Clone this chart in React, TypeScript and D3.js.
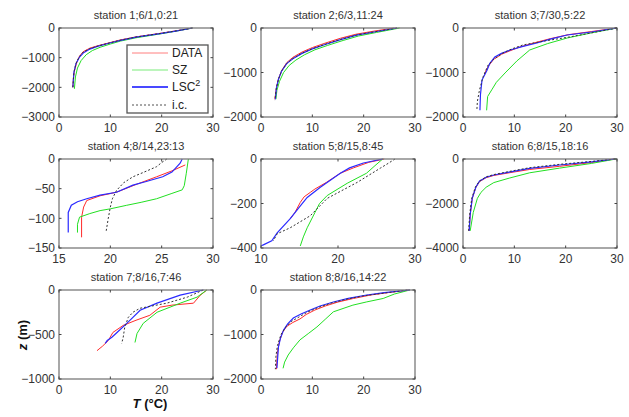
import React from 'react'
import * as d3 from 'd3'

type Pt = [number, number] // [temperature °C, depth m]

// panel titles
const titles = [
  'station 1;6/1,0:21', 'station 2;6/3,11:24', 'station 3;7/30,5:22',
  'station 4;8/14,23:13', 'station 5;8/15,8:45', 'station 6;8/15,18:16',
  'station 7;8/16,7:46', 'station 8;8/16,14:22',
]

const xDomains: [number, number][] = [[0, 30], [0, 30], [0, 30], [15, 30], [10, 30], [0, 30], [0, 30], [0, 30]]
const yDomains: [number, number][] = [[-3000, 0], [-2000, 0], [-2000, 0], [-150, 0], [-400, 0], [-4000, 0], [-1000, 0], [-2000, 0]]
const xTicks = [[0, 10, 20, 30], [0, 10, 20, 30], [0, 10, 20, 30], [15, 20, 25, 30], [10, 20, 30], [0, 10, 20, 30], [0, 10, 20, 30], [0, 10, 20, 30]]
const yTicks = [[0, -1000, -2000, -3000], [0, -1000, -2000], [0, -1000, -2000], [0, -50, -100, -150], [0, -200, -400], [0, -2000, -4000], [0, -500, -1000], [0, -1000, -2000]]

// station 1
const s1Data: Pt[] = [[26, 0], [23, -90], [19.7, -180], [15, -300], [12, -400], [9.9, -494], [7.5, -600], [6, -680], [4.7, -800], [4, -950], [3.5, -1140], [3, -1450], [2.8, -1700], [2.7, -2000]]
const s1SZ: Pt[] = [[26, 0], [23, -100], [19.7, -200], [15, -330], [12, -440], [10, -540], [8, -650], [6.5, -760], [5.3, -900], [4.3, -1100], [3.6, -1350], [3.2, -1650], [3, -2050]]
const s1LSC: Pt[] = [[26, 0], [23, -95], [19.7, -190], [15, -310], [12, -415], [9.9, -505], [7.5, -620], [6, -710], [4.8, -830], [4, -980], [3.3, -1200], [2.9, -1500], [2.8, -1750], [2.7, -2000]]
const s1IC: Pt[] = [[26, 0], [23, -92], [19.7, -185], [15, -305], [12, -408], [9.9, -500], [7.5, -610], [6, -695], [4.7, -815], [3.9, -980], [3.3, -1200], [2.9, -1500], [2.7, -2000]]

// station 2
const s2Data: Pt[] = [[26, 0], [22, -70], [18.5, -140], [15.5, -230], [12.5, -340], [10, -440], [8, -540], [6.2, -660], [5, -780], [4, -960], [3.4, -1150], [3, -1350], [2.7, -1600]]
const s2SZ: Pt[] = [[27, 0], [22.5, -100], [19, -180], [16, -280], [13, -390], [10.5, -490], [8.5, -600], [6.8, -720], [5.5, -840], [4.4, -1000], [3.6, -1200], [3.1, -1400], [2.9, -1600]]
const s2LSC: Pt[] = [[26.5, 0], [22, -90], [18.6, -160], [15.5, -260], [12.5, -370], [10, -470], [8, -570], [6.2, -690], [5, -800], [4, -970], [3.4, -1150], [3, -1350], [2.8, -1600]]
const s2IC: Pt[] = [[26.5, 0], [22, -88], [18.6, -158], [15.5, -255], [12.5, -365], [10, -465], [8, -565], [6.2, -685], [5, -800], [4, -970], [3.4, -1150], [3, -1350], [2.7, -1620]]

// station 3
const s3Data: Pt[] = [[30, 0], [25, -80], [20.5, -150], [17, -240], [14, -330], [11, -430], [9, -520], [7.5, -590], [6.9, -640], [6, -700], [5.6, -760], [5, -850], [4.5, -950], [4.2, -1050]]
const s3SZ: Pt[] = [[30, 0], [25, -110], [20.3, -225], [16.5, -350], [13, -494], [10.5, -740], [8.2, -1010], [6.5, -1220], [5.6, -1390], [4.8, -1540], [4.6, -1850]]
const s3LSC: Pt[] = [[30, 0], [25, -90], [20.3, -157], [17, -250], [14.4, -337], [11.5, -420], [9.2, -494], [7.5, -570], [6.2, -650], [5.2, -800], [4.7, -944], [3.7, -1170], [3.4, -1500], [3.3, -1850]]
const s3IC: Pt[] = [[30, 0], [25, -110], [20.8, -200], [16, -290], [11.7, -380], [9.5, -470], [7.8, -560], [6, -700], [4.9, -830], [3.9, -1100], [3.2, -1400], [2.8, -1650], [2.7, -1850]]

// station 4
const s4Data: Pt[] = [[27.3, -10], [26, -20], [24.5, -30], [22.5, -43], [20.6, -56], [19, -62], [17.7, -70], [17.4, -81], [17.2, -98], [17.2, -132]]
const s4SZ: Pt[] = [[27.6, 0], [27.4, -24], [27.2, -45], [27, -52], [26, -58], [24.5, -67], [23, -73], [21.6, -78], [20, -84], [19, -87], [18, -92], [17, -98], [16.8, -110], [16.8, -124]]
const s4LSC: Pt[] = [[27, 0], [26.8, -7], [26, -22], [25.1, -30], [23.5, -38], [22.2, -44], [20.6, -56], [19, -61], [17.7, -67], [16.8, -72], [16.2, -78], [15.9, -90], [15.9, -124]]
const s4IC: Pt[] = [[25.5, 0], [25, -6], [24.5, -13], [23.3, -22], [22.2, -30], [21.3, -40], [20.6, -53], [20.2, -67], [20, -81], [19.8, -100], [19.6, -121]]

// station 5
const s5Data: Pt[] = [[26, 0], [24, -15], [22, -40], [20.3, -64], [18.5, -105], [17, -135], [16.4, -150], [15.6, -170], [15.1, -195], [14.4, -241], [13.8, -268]]
const s5SZ: Pt[] = [[25.8, 0], [24.8, -30], [23.7, -64], [21.2, -109], [18.6, -164], [17.6, -200], [17, -241], [16, -309], [15.5, -350], [15.1, -391]]
const s5LSC: Pt[] = [[25.8, 0], [23.3, -18], [21.5, -40], [20.3, -64], [19, -95], [17.7, -127], [16, -173], [14.9, -220], [13.8, -268], [12.1, -332], [11.4, -368], [10.3, -386], [10, -390]]
const s5IC: Pt[] = [[27.4, 0], [26.5, -20], [25.5, -41], [22.5, -105], [18.6, -177], [16.4, -255], [13.8, -309], [12.1, -336], [11.6, -368]]

// station 6
const s6Data: Pt[] = [[29.5, 0], [25, -160], [18.8, -330], [13, -470], [9, -620], [6, -740], [4.5, -840], [3.2, -1020], [2.5, -1280], [1.8, -1770], [1.4, -2500], [1.2, -3230]]
const s6SZ: Pt[] = [[29.8, 0], [25, -200], [18.8, -410], [13, -620], [9, -860], [6, -1060], [4.5, -1270], [3.5, -1500], [2.8, -1770], [2, -2400], [1.4, -3230]]
const s6LSC: Pt[] = [[29.6, 0], [25, -130], [18.8, -270], [13, -420], [9, -590], [6, -720], [4.5, -820], [3.2, -1000], [2.5, -1270], [1.8, -1770], [1.4, -2500], [1.2, -3230]]
const s6IC: Pt[] = [[29.6, 0], [25, -110], [18.8, -240], [13, -390], [9, -560], [6, -700], [4.5, -800], [3.2, -990], [2.4, -1270], [1.7, -1770], [1.3, -2500], [1.1, -3230]]

// station 7
const s7Data: Pt[] = [[28.8, 0], [27.5, -60], [26.2, -148], [22, -170], [19.7, -193], [17.7, -284], [15, -340], [12.5, -398], [10.5, -477], [9.6, -568], [8.5, -630], [7.4, -682]]
const s7SZ: Pt[] = [[28.8, 0], [26.9, -80], [23.6, -148], [19.1, -250], [16.4, -375], [15.2, -489], [14.8, -590]]
const s7LSC: Pt[] = [[28.1, 0], [23.6, -57], [19.1, -148], [15.8, -227], [14.4, -307], [13.2, -375], [11.3, -477], [10.3, -530], [9.4, -568], [9, -600]]
const s7IC: Pt[] = [[28.1, 0], [25, -80], [21, -148], [15.8, -205], [14.4, -250], [13.5, -307], [12.8, -420], [12.5, -534], [12.2, -602]]

// station 8
const s8Data: Pt[] = [[29, 0], [25, -55], [21.5, -110], [18, -190], [15, -270], [12.5, -360], [10.5, -450], [8.8, -550], [7.6, -650], [6.2, -730], [5, -820], [4.2, -950], [3.6, -1150], [3.2, -1400], [3, -1780]]
const s8SZ: Pt[] = [[29, 0], [26, -90], [23.8, -190], [20.5, -270], [17.9, -340], [14.1, -490], [12.5, -660], [10.9, -830], [9.2, -980], [7.6, -1120], [6.3, -1300], [5.3, -1460], [4.6, -1620], [4.3, -1760]]
const s8LSC: Pt[] = [[29, 0], [24, -60], [20.6, -112], [17, -190], [14.1, -270], [11.5, -360], [9.6, -450], [7.8, -540], [6.3, -630], [5.2, -760], [4.4, -900], [3.8, -1080], [3.4, -1280], [3.1, -1760]]
const s8IC: Pt[] = [[28.5, 0], [24, -70], [20, -130], [16.5, -210], [13.5, -300], [11, -400], [9, -500], [7.5, -600], [6, -700], [4.9, -820], [3.9, -1000], [3.2, -1250], [2.9, -1500], [2.8, -1780]]

const stations = [
  [s1Data, s1SZ, s1LSC, s1IC], [s2Data, s2SZ, s2LSC, s2IC], [s3Data, s3SZ, s3LSC, s3IC],
  [s4Data, s4SZ, s4LSC, s4IC], [s5Data, s5SZ, s5LSC, s5IC], [s6Data, s6SZ, s6LSC, s6IC],
  [s7Data, s7SZ, s7LSC, s7IC], [s8Data, s8SZ, s8LSC, s8IC],
]

const seriesNames = ['DATA', 'SZ', 'LSC', 'i.c.']
const seriesStyle = [
  { stroke: '#ff2a2a', width: 1, dash: undefined },
  { stroke: '#22e022', width: 1, dash: undefined },
  { stroke: '#2a2aff', width: 1.2, dash: undefined },
  { stroke: '#333', width: 1, dash: '2,2' },
]

const W = 629
const H = 417
const colLeft = [59, 261, 463]
const rowTop = [28, 159, 290]
const pw = 154
const ph = 89
const font = 'Liberation Sans, Arial, sans-serif'
const frame = '#7a7a7a'

function Panel({ i }: { i: number }) {
  const left = colLeft[i % 3]
  const top = rowTop[Math.floor(i / 3)]
  const x = d3.scaleLinear().domain(xDomains[i]).range([left, left + pw])
  const y = d3.scaleLinear().domain(yDomains[i]).range([top + ph, top])
  const line = d3.line<Pt>().x(d => x(d[0])).y(d => y(d[1]))
  const fmt = d3.format('d')

  return (
    <g>
      <text x={left + pw / 2} y={top - 9} textAnchor="middle" fontSize={11} fill="#333" fontFamily={font}>{titles[i]}</text>
      <rect x={left} y={top} width={pw} height={ph} fill="white" />
      {stations[i].map((pts, k) => (
        <path key={k} d={line(pts) || ''} fill="none" stroke={seriesStyle[k].stroke}
          strokeWidth={seriesStyle[k].width} strokeDasharray={seriesStyle[k].dash} />
      ))}
      <rect x={left} y={top} width={pw} height={ph} fill="none" stroke={frame} strokeWidth={1.3} />
      {xTicks[i].map(t => (
        <g key={'x' + t}>
          <line x1={x(t)} x2={x(t)} y1={top + ph} y2={top + ph - 2.5} stroke="#444" />
          <line x1={x(t)} x2={x(t)} y1={top} y2={top + 2.5} stroke="#444" />
          <text x={x(t)} y={top + ph + 15} textAnchor="middle" fontSize={12} fill="#333" fontFamily={font}>{fmt(t)}</text>
        </g>
      ))}
      {yTicks[i].map(t => (
        <g key={'y' + t}>
          <line x1={left} x2={left + 2.5} y1={y(t)} y2={y(t)} stroke="#444" />
          <line x1={left + pw} x2={left + pw - 2.5} y1={y(t)} y2={y(t)} stroke="#444" />
          <text x={left - 4} y={y(t)} dy="0.36em" textAnchor="end" fontSize={12} fill="#333" fontFamily={font}>{fmt(t)}</text>
        </g>
      ))}
    </g>
  )
}

function Legend() {
  const lx = 127
  const ly = 45
  const rows = [53, 70, 87, 105]
  return (
    <g>
      <rect x={lx} y={ly} width={81} height={68} fill="white" stroke="#555" strokeWidth={1.3} />
      {seriesNames.map((name, k) => (
        <g key={name}>
          <line x1={132} x2={168} y1={rows[k]} y2={rows[k]} stroke={seriesStyle[k].stroke}
            strokeWidth={k === 2 ? 2 : 1} strokeDasharray={seriesStyle[k].dash} opacity={k < 2 ? 0.6 : 0.85} />
          <text x={172} y={rows[k]} dy="0.36em" fontSize={12} fill="#222" fontFamily={font}>
            {k === 2 ? <>LSC<tspan dy="-5" fontSize={9}>2</tspan></> : name}
          </text>
        </g>
      ))}
    </g>
  )
}

export default function App() {
  return (
    <svg width={W} height={H} style={{ position: 'absolute', left: 0, top: 0, background: 'white' }}>
      {titles.map((_, i) => <Panel key={i} i={i} />)}
      <Legend />
      <text transform="translate(27,335) rotate(-90)" textAnchor="middle" fontSize={13} fontWeight="bold" fill="#111" fontFamily={font}>
        <tspan fontStyle="italic">z</tspan> (m)
      </text>
      <text x={150} y={408} textAnchor="middle" fontSize={13} fontWeight="bold" fill="#111" fontFamily={font}>
        <tspan fontStyle="italic">T</tspan> (°C)
      </text>
    </svg>
  )
}
